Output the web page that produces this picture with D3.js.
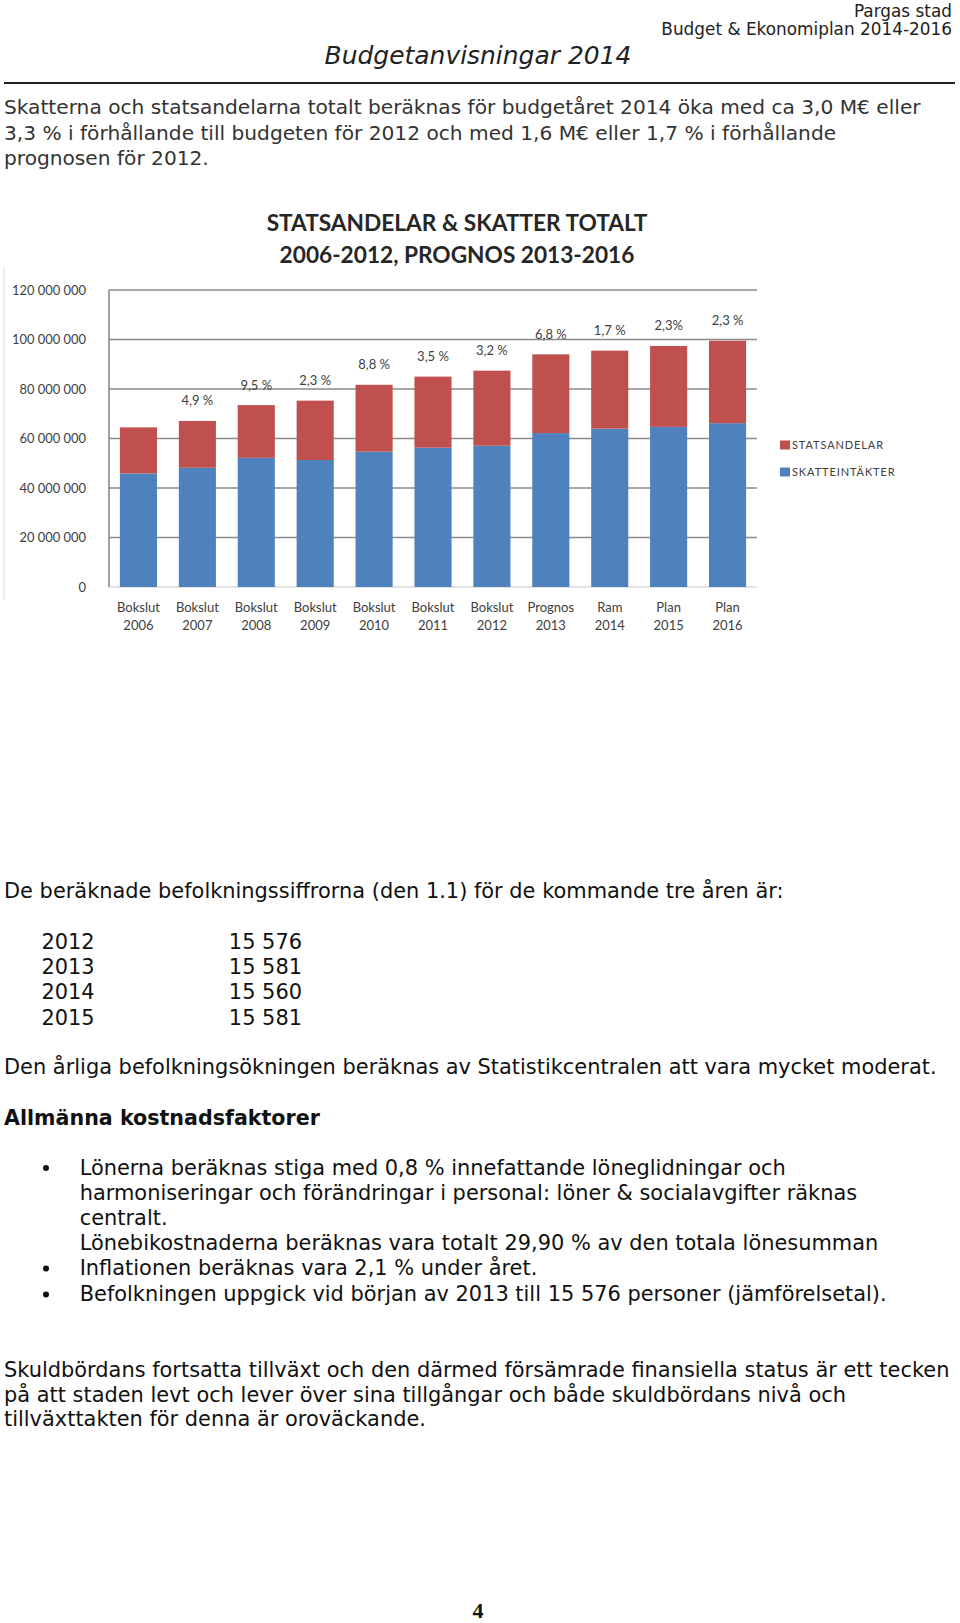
<!DOCTYPE html>
<html><head><meta charset="utf-8">
<script src="https://cdn.jsdelivr.net/npm/d3@7"></script>
<style>
html,body{margin:0;padding:0;background:#fff;}
svg{display:block;}
</style></head>
<body>
<svg id="page" width="960" height="1623"></svg>
<script>
// ---------- chart data ----------
const categories = ["Bokslut 2006","Bokslut 2007","Bokslut 2008","Bokslut 2009","Bokslut 2010","Bokslut 2011","Bokslut 2012","Prognos 2013","Ram 2014","Plan 2015","Plan 2016"];
const skatteintakter = [45900000,48200000,52200000,51300000,54700000,56300000,57100000,62200000,64000000,64700000,66200000];
const statsandelar   = [18600000,18900000,21300000,24000000,27000000,28700000,30300000,31800000,31500000,32700000,33300000];
const growthLabels = ["","4,9 %","9,5 %","2,3 %","8,8 %","3,5 %","3,2 %","6,8 %","1,7 %","2,3%","2,3 %"];
const yTicks = [0,20000000,40000000,60000000,80000000,100000000,120000000];
const seriesNames = ["STATSANDELAR","SKATTEINTÄKTER"];
const seriesColors = ["#C0504D","#4F81BD"];
const chartTitle = ["STATSANDELAR & SKATTER TOTALT","2006-2012, PROGNOS 2013-2016"];

// ---------- page text ----------
const headerLines = ["Pargas stad","Budget & Ekonomiplan 2014-2016"];
const pageTitle = "Budgetanvisningar 2014";
const para1 = ["Skatterna och statsandelarna totalt beräknas för budgetåret 2014 öka med ca 3,0 M€ eller",
  "3,3 % i förhållande till budgeten för 2012 och med 1,6 M€ eller 1,7 % i förhållande",
  "prognosen för 2012."];
const popIntro = "De beräknade befolkningssiffrorna (den 1.1) för de kommande tre åren är:";
const popYears = ["2012","2013","2014","2015"];
const popValues = ["15 576","15 581","15 560","15 581"];
const popNote = "Den årliga befolkningsökningen beräknas av Statistikcentralen att vara mycket moderat.";
const heading = "Allmänna kostnadsfaktorer";
const bulletLines = [
  {t:"Lönerna beräknas stiga med 0,8 % innefattande löneglidningar och", b:true},
  {t:"harmoniseringar och förändringar i personal: löner & socialavgifter räknas", b:false},
  {t:"centralt.", b:false},
  {t:"Lönebikostnaderna beräknas vara totalt 29,90 % av den totala lönesumman", b:false},
  {t:"Inflationen beräknas vara 2,1 % under året.", b:true},
  {t:"Befolkningen uppgick vid början av 2013 till 15 576 personer (jämförelsetal).", b:true}];
const para2 = ["Skuldbördans fortsatta tillväxt och den därmed försämrade finansiella status är ett tecken",
  "på att staden levt och lever över sina tillgångar och både skuldbördans nivå och",
  "tillväxttakten för denna är oroväckande."];
const pageNumber = "4";

const svg = d3.select("#page");
svg.append("rect").attr("width",960).attr("height",1623).attr("fill","#fff");

const BODY = "'DejaVu Sans', Verdana, sans-serif";
const CHART = "Lato, 'Open Sans', sans-serif";

// fit helper: find font size so that text width == target
function fitSize(txt, family, weight, style, target){
  const t = svg.append("text").attr("font-family",family).attr("font-weight",weight)
    .attr("font-style",style).attr("font-size",100).text(txt);
  const w = t.node().getComputedTextLength(); t.remove();
  return 100*target/w;
}
const bodySize = fitSize(popNote, BODY, "normal","normal", 933);
const para1Size = fitSize(para1[0], BODY, "normal","normal", 917);
const headSize = fitSize(headerLines[1], BODY, "normal","normal", 291);
const titleSize = fitSize(pageTitle, BODY, "normal","italic", 307);
const boldSize = fitSize(heading, BODY, "bold","normal", 316);

function textAt(x,yc,txt,size,opts={}){
  return svg.append("text").attr("x",x).attr("y",yc).attr("dy","0.36em")
    .attr("font-family",opts.family||BODY).attr("font-size",size)
    .attr("font-weight",opts.weight||"normal").attr("font-style",opts.style||"normal")
    .attr("text-anchor",opts.anchor||"start").attr("fill",opts.fill||"#111").text(txt);
}

// header
textAt(952,10.5,headerLines[0],headSize,{anchor:"end",fill:"#222"});
textAt(952,29,headerLines[1],headSize,{anchor:"end",fill:"#222"});
textAt(478,55,pageTitle,titleSize,{anchor:"middle",style:"italic",fill:"#222"});
svg.append("line").attr("x1",4).attr("x2",955).attr("y1",83).attr("y2",83).attr("stroke","#222").attr("stroke-width",2);

[107,132.5,157.4].forEach((y,i)=>textAt(4,y,para1[i],para1Size,{fill:"#333"}));

// ---------- chart ----------
const plot = {left:109,right:757,top:290,bottom:587};
const x = d3.scaleBand().domain(categories).range([plot.left,plot.right]).paddingInner(0.37).paddingOuter(0.185);
const y = d3.scaleLinear().domain([0,120000000]).range([plot.bottom,plot.top]);

// faint chart border on left
svg.append("line").attr("x1",4).attr("x2",4).attr("y1",267).attr("y2",600).attr("stroke","#dcdcdc").attr("stroke-width",1);

const g = svg.append("g");
// gridlines
g.selectAll("line.grid").data(yTicks.filter(d=>d>0)).join("line").attr("class","grid")
  .attr("x1",plot.left).attr("x2",plot.right).attr("y1",d=>y(d)).attr("y2",d=>y(d))
  .attr("stroke","#8a8a8a").attr("stroke-width",1.6);
// axes lines
g.append("line").attr("x1",plot.left).attr("x2",plot.right).attr("y1",y(0)).attr("y2",y(0)).attr("stroke","#c8c8c8").attr("stroke-width",1.2);
g.append("line").attr("x1",plot.left).attr("x2",plot.left).attr("y1",y(120000000)).attr("y2",y(0)).attr("stroke","#8a8a8a").attr("stroke-width",1.6);

// y tick labels via axis
const fmt = v => d3.format(",")(v).replace(/,/g," ");
const yAxis = d3.axisLeft(y).tickValues(yTicks).tickFormat(fmt).tickSize(0).tickPadding(0);
const ya = svg.append("g").attr("transform","translate(86,0)").call(yAxis);
ya.select(".domain").remove();
ya.selectAll("text").attr("font-family",CHART).attr("font-size",12.9).attr("fill","#404040");

// stacked bars
const rows = categories.map((c,i)=>({cat:c, SKATTEINTÄKTER:skatteintakter[i], STATSANDELAR:statsandelar[i]}));
const stack = d3.stack().keys(["SKATTEINTÄKTER","STATSANDELAR"])(rows);
const colorOf = {SKATTEINTÄKTER:seriesColors[1], STATSANDELAR:seriesColors[0]};
stack.forEach(layer=>{
  g.append("g").attr("fill",colorOf[layer.key]).selectAll("rect").data(layer).join("rect")
    .attr("x",d=>x(d.data.cat)).attr("width",x.bandwidth())
    .attr("y",d=>y(d[1])).attr("height",d=>y(d[0])-y(d[1]));
});

// growth labels
g.selectAll("text.pct").data(categories).join("text").attr("class","pct")
  .attr("x",d=>x(d)+x.bandwidth()/2).attr("y",(d,i)=>y(skatteintakter[i]+statsandelar[i])-20)
  .attr("dy","0.35em").attr("text-anchor","middle").attr("font-family",CHART).attr("font-size",13)
  .attr("fill","#404040").text((d,i)=>growthLabels[i]);

// x axis labels
const xa = svg.append("g");
categories.forEach(c=>{
  const parts = c.split(" ");
  const cx = x(c)+x.bandwidth()/2;
  parts.forEach((p,j)=>{
    xa.append("text").attr("x",cx).attr("y",y(0)+20.7+18*j).attr("dy","0.35em")
      .attr("text-anchor","middle").attr("font-family",CHART).attr("font-size",13)
      .attr("fill","#404040").text(p);
  });
});

// title
const ctSize = fitSize(chartTitle[0], CHART, "bold","normal", 381);
chartTitle.forEach((t,i)=>{
  svg.append("text").attr("x",457).attr("y",223+32*i).attr("dy","0.36em").attr("text-anchor","middle")
    .attr("font-family",CHART).attr("font-weight","bold").attr("font-size",ctSize).attr("fill","#262626").text(t);
});

// legend
const leg = svg.append("g");
seriesNames.forEach((n,i)=>{
  const yy = 445 + 27*i;
  leg.append("rect").attr("x",780).attr("y",yy-4.5).attr("width",10).attr("height",9).attr("fill",seriesColors[i]);
  leg.append("text").attr("x",792).attr("y",yy).attr("dy","0.36em").attr("font-family",CHART)
    .attr("font-size",11).attr("letter-spacing",0.9).attr("fill","#404040").text(n);
});

// ---------- body text ----------
textAt(4,890.6,popIntro,bodySize);
[941.3,966.2,991,1017].forEach((yy,i)=>{
  textAt(41.4,yy,popYears[i],bodySize);
  textAt(302,yy,popValues[i],bodySize,{anchor:"end"});
});
textAt(4,1066.7,popNote,bodySize);
textAt(4,1117.4,heading,boldSize,{weight:"bold"});
[1167.1,1192,1217.8,1242.7,1267.6,1293.5].forEach((yy,i)=>{
  if(bulletLines[i].b) svg.append("circle").attr("cx",46).attr("cy",yy+1).attr("r",3).attr("fill","#111");
  textAt(79.7,yy,bulletLines[i].t,bodySize);
});
[1369,1394,1418.7].forEach((yy,i)=>textAt(4,yy,para2[i],bodySize));
svg.append("text").attr("x",478).attr("y",1610).attr("dy","0.36em").attr("text-anchor","middle")
  .attr("font-family","'Liberation Serif', 'Times New Roman', serif").attr("font-weight","bold")
  .attr("font-size",22).attr("fill","#111").text(pageNumber);
</script>
</body></html>
